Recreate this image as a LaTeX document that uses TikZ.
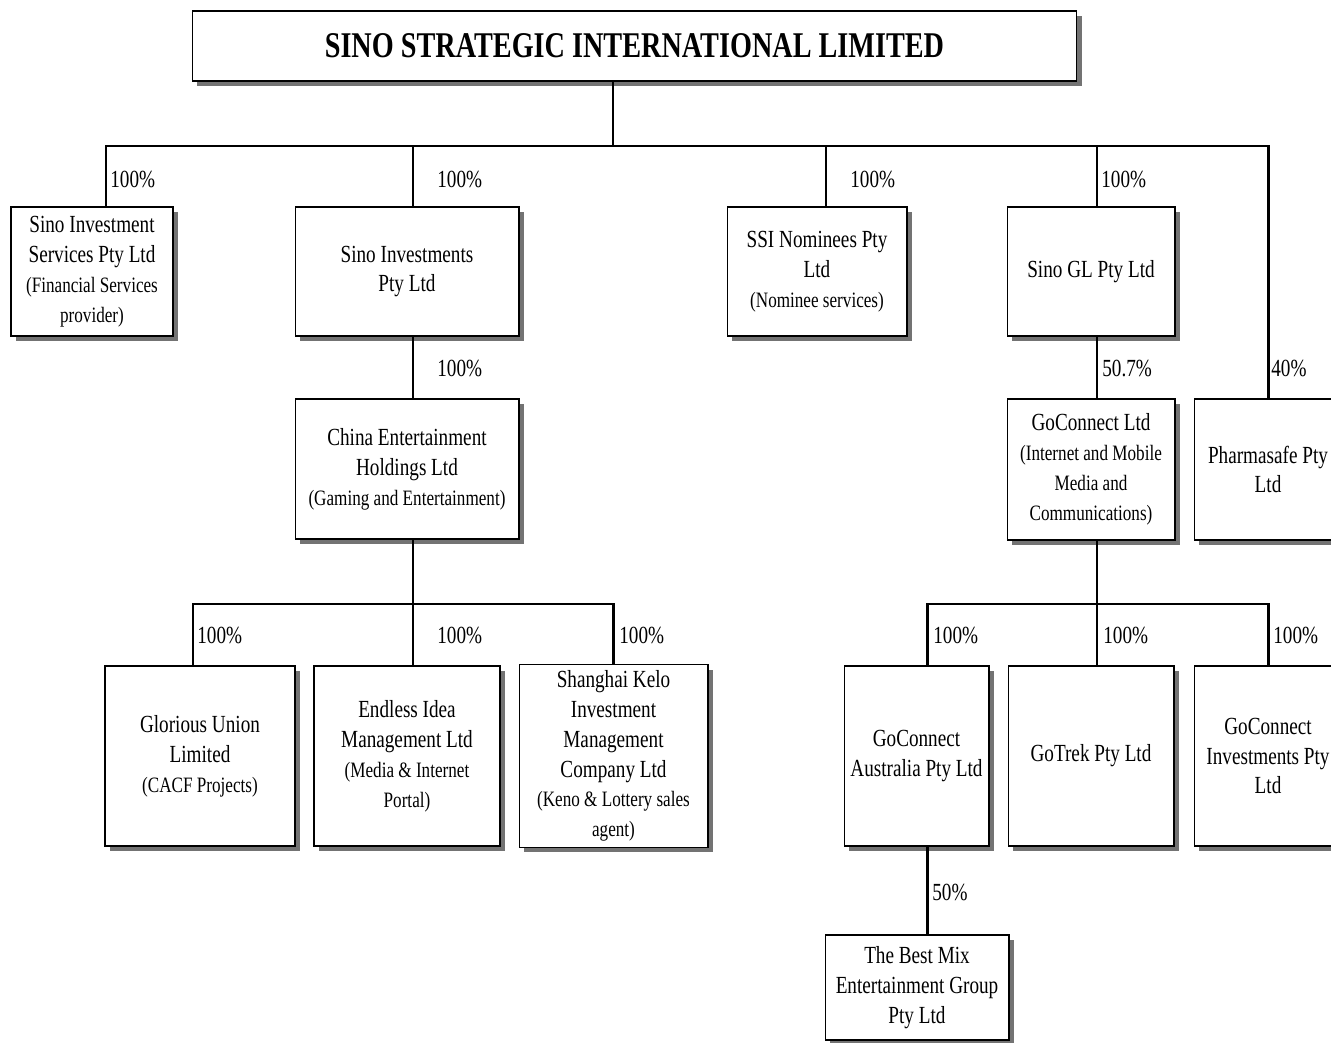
\documentclass[tikz,border=0pt]{standalone}
\usepackage{fontspec}
\setmainfont{Liberation Serif}[FakeStretch=0.78]
\usetikzlibrary{shadows}
\newcommand{\subtxt}{\fontsize{12.5}{16}\selectfont}
\tikzstyle{orgbox} = [rectangle, draw=black, line width=0.6pt, fill=white, align=center,
font=\fontsize{14}{17}\selectfont,
drop shadow={shadow xshift=0.1cm, shadow yshift=-0.1cm, fill=black!55, opacity=1}]
\tikzstyle{titlebox} = [orgbox, font=\bfseries\fontsize{20.6}{24}\selectfont]
\tikzstyle{share} = [anchor=west, inner sep=0pt, font=\fontsize{14}{17}\selectfont]
\tikzstyle{line} = [line width=1.1pt]
\tikzstyle{bus} = [line width=1.7pt]

\begin{document}
\begin{tikzpicture}[x=0.02cm, y=-0.02cm]
\clip (0,0) rectangle (1331,1043);

\node (title) [titlebox, minimum width=17.7cm, minimum height=1.4cm] at (634.5,46) {SINO STRATEGIC INTERNATIONAL LIMITED};

% first level
\node (sis) [orgbox, minimum width=3.24cm, minimum height=2.58cm] at (92,271.5) {Sino Investment\\Services Pty Ltd\\\subtxt (Financial Services\\\subtxt provider)};
\node (si) [orgbox, minimum width=4.48cm, minimum height=2.58cm] at (407,271.5) {Sino Investments\\Pty Ltd};
\node (ssi) [orgbox, minimum width=3.6cm, minimum height=2.58cm] at (817,271.5) {SSI Nominees Pty\\Ltd\\\subtxt (Nominee services)};
\node (gl) [orgbox, minimum width=3.36cm, minimum height=2.58cm] at (1091,271.5) {Sino GL Pty Ltd};

% second level
\node (ceh) [orgbox, minimum width=4.48cm, minimum height=2.8cm] at (407,469) {China Entertainment\\Holdings Ltd\\\subtxt (Gaming and Entertainment)};
\node (gcl) [orgbox, minimum width=3.36cm, minimum height=2.82cm] at (1091,469.5) {GoConnect Ltd\\\subtxt (Internet and Mobile\\\subtxt Media and\\\subtxt Communications)};
\node (pharma) [orgbox, minimum width=2.96cm, minimum height=2.82cm] at (1268,469.5) {Pharmasafe Pty\\Ltd};

% third level
\node (glor) [orgbox, minimum width=3.8cm, minimum height=3.6cm] at (200,756) {Glorious Union\\Limited\\\subtxt (CACF Projects)};
\node (eil) [orgbox, minimum width=3.72cm, minimum height=3.6cm] at (407,756) {Endless Idea\\Management Ltd\\\subtxt (Media \& Internet\\\subtxt Portal)};
\node (skl) [orgbox, minimum width=3.78cm, minimum height=3.6cm] at (613.5,756) {Shanghai Kelo\\Investment\\Management\\Company Ltd\\\subtxt (Keno \& Lottery sales\\\subtxt agent)};
\node (gca) [orgbox, minimum width=2.9cm, minimum height=3.6cm] at (916.5,756) {GoConnect\\Australia Pty Ltd};
\node (gotrek) [orgbox, minimum width=3.32cm, minimum height=3.6cm] at (1091,756) {GoTrek Pty Ltd};
\node (gci) [orgbox, minimum width=2.96cm, minimum height=3.6cm] at (1268,756) {GoConnect\\Investments Pty\\Ltd};
\node (bmx) [orgbox, minimum width=3.68cm, minimum height=2.1cm] at (917,987.5) {The Best Mix\\Entertainment Group\\Pty Ltd};

% junctions
\node (j0)[coordinate] at (613,146) {};
\node (d1)[coordinate] at (106,146) {};
\node (d2)[coordinate] at (413,146) {};
\node (d3)[coordinate] at (826,146) {};
\node (d4)[coordinate] at (1097,146) {};
\node (d5)[coordinate] at (1268,146) {};
\node (e1)[coordinate] at (193,604) {};
\node (e2)[coordinate] at (413,604) {};
\node (e3)[coordinate] at (613,604) {};
\node (g1)[coordinate] at (927,604) {};
\node (g2)[coordinate] at (1097,604) {};
\node (g3)[coordinate] at (1268,604) {};

\draw [line] (title.south -| j0) -- (j0);
\draw [bus] (sis.north -| d1) -- (d1) -- (d5) -- (pharma.north);
\draw [line] (d2) -- (si.north -| d2);
\draw [line] (d3) -- (ssi.north -| d3);
\draw [line] (d4) -- (gl.north -| d4);
\draw [line] (si.south -| d2) -- (ceh.north -| d2);
\draw [line] (gl.south -| d4) -- (gcl.north -| d4);
\draw [bus] (glor.north -| e1) -- (e1) -- (e3) -- (skl.north -| e3);
\draw [line] (ceh.south -| e2) -- (eil.north -| e2);
\draw [bus] (gca.north -| g1) -- (g1) -- (g3) -- (gci.north);
\draw [line] (gcl.south -| g2) -- (gotrek.north -| g2);
\draw [bus] (gca.south -| g1) -- (bmx.north -| g1);

% shares
\node (p-sis) [share] at (110,179) {100\%};
\node (p-si) [share] at (437,179) {100\%};
\node (p-ssi) [share] at (850,179) {100\%};
\node (p-gl) [share] at (1101,179) {100\%};
\node (p-ceh) [share] at (437,368) {100\%};
\node (p-gcl) [share] at (1102,368) {50.7\%};
\node (p-ph) [share] at (1271,368) {40\%};
\node (p-glor) [share] at (197,635) {100\%};
\node (p-eil) [share] at (437,635) {100\%};
\node (p-skl) [share] at (619,635) {100\%};
\node (p-gca) [share] at (933,635) {100\%};
\node (p-got) [share] at (1103,635) {100\%};
\node (p-gci) [share] at (1273,635) {100\%};
\node (p-bmx) [share] at (932,892) {50\%};

\end{tikzpicture}
\end{document}
